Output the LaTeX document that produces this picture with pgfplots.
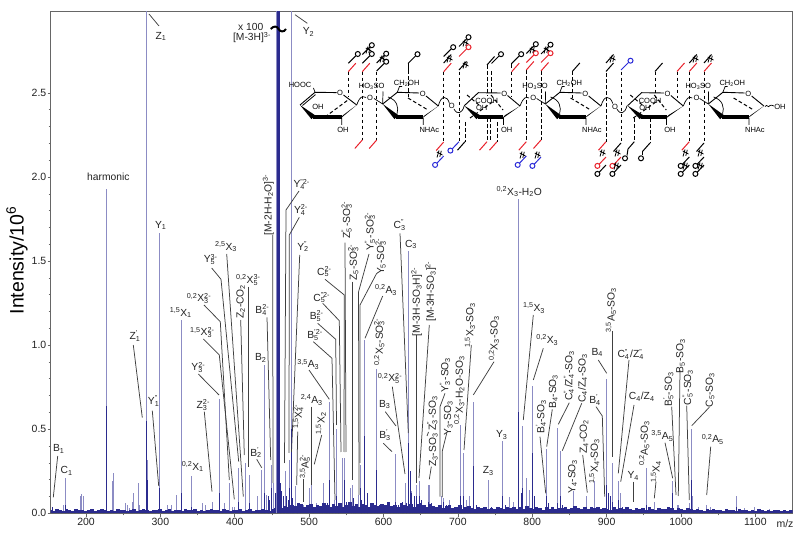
\documentclass[border=0pt]{standalone}
\usepackage{fontspec}
\setmainfont{Liberation Sans}
\usepackage{pgfplots}
\pgfplotsset{compat=1.18}
\usepackage{pgfplotstable}
\definecolor{lightpk}{HTML}{8C8CC4}
\definecolor{darkpk}{HTML}{2B2B8E}
\definecolor{axgray}{HTML}{666666}
\definecolor{txt}{HTML}{222222}
\definecolor{sred}{HTML}{E8212B}
\definecolor{sblue}{HTML}{2A2AD8}
\newcommand{\us}[1]{\textsubscript{#1}}
\newcommand{\os}[1]{\textsuperscript{#1}}
\newcommand{\su}[2]{\rlap{\textsubscript{#1}}\textsuperscript{#2}}
\newcommand{\Lh}[3]{\node[lb] at (#1,#2) {#3};}
\newcommand{\Lv}[3]{\node[lb,rotate=90] at (#1,#2) {#3};}
\newcommand{\Sm}[3]{\node[sm] at (#1,#2) {#3};}
\newcommand{\DV}[3]{\draw[black,line width=1pt,dash pattern=on 3.6pt off 2.4pt] (#1,#2)--(#1,#3);}
\newcommand{\TS}[3]{\draw[#3,line width=1pt] (#1,#2)--++(7.5,-8.5);}
\newcommand{\TC}[3]{\draw[#3,line width=1pt] (#1,#2)--++(7.4,-7.4);\draw[#3,line width=1pt] (#1,#2)++(9.5,-9.3) circle[radius=2.5];}
\newcommand{\BS}[3]{\draw[#3,line width=1pt] (#1,#2)--++(-7.5,8.5);}
\newcommand{\BC}[3]{\draw[#3,line width=1pt] (#1,#2)--++(-6.6,7);\draw[#3,line width=1pt] (#1,#2)++(-8.6,8.9) circle[radius=2.5];}
\newcommand{\XM}[2]{\draw[black,line width=.8pt] (#1-1,#2+3.5)--(#1+1,#2-3.5) (#1+1.8,#2+2.8)--(#1+3.3,#2-3.2) (#1-1.2,#2-2)--(#1+4.5,#2+1);}
\newcommand{\uro}[1]{\begin{scope}[xshift=#1pt]
 \draw[black,line width=.9pt] (464.3,105.7)--(478.3,92.7)--(500.5,93) (507.5,95.5)--(520,106);
 \fill[black] (464.3,105.7)--(476.5,119.2)--(480,115.2)--cycle;
 \fill[black] (478,115.2)--(503.3,115.2)--(503.3,119.2)--(478,119.2)--cycle;
 \fill[black] (501.5,119.2)--(505,115.2)--(520,106)--cycle;
 \Sm{504.3}{94}{O}\Sm{486.7}{101}{COOH}\Sm{481.7}{108}{OH}\Sm{506.7}{130}{OH}
 \draw[black,line width=.7pt] (503.3,118)--(503.3,125);
 \draw[black,line width=.7pt] (520,106) .. controls (524,96) and (526,97) .. (529,98);
 \Sm{533.3}{98.3}{O}\Sm{535}{86.7}{HO\us{3}SO}
 \draw[black,line width=1pt,dash pattern=on 3.6pt off 2.4pt] (467,95)--(479,105) (491,95)--(503,110) (470,118)--(494,101);
 \end{scope}}
\newcommand{\glcn}[1]{\begin{scope}[xshift=#1pt]
 \draw[black,line width=.9pt] (382.7,104)--(397.3,92.3)--(419,93) (426,96)--(438.3,106);
 \fill[black] (382.7,104)--(394.5,119.2)--(398.4,115.2)--cycle;
 \fill[black] (396,115.2)--(423.3,115.2)--(423.3,119.2)--(396,119.2)--cycle;
 \fill[black] (421,119.2)--(425,115.2)--(438.3,106)--cycle;
 \Sm{422.7}{94}{O}\Sm{406.7}{83.3}{CH\us{2}OH}\Sm{429.3}{130}{NHAc}
 \draw[black,line width=.7pt] (397.3,92.3)--(399.5,86.5)--(402,86.5) (423.3,118)--(423.3,125);
 \draw[black,line width=.7pt] (388,97) .. controls (397,100) and (399,107) .. (397,114);
 \draw[black,line width=.7pt] (374,98.5)--(382.7,104) (383,91.5)--(382.7,104);
 \draw[black,line width=1pt,dash pattern=on 3.6pt off 2.4pt] (408,98)--(428,110);
 \end{scope}}
\begin{document}
\begin{tikzpicture}[lb/.style={inner sep=0pt,text=txt,font=\fontsize{10.3}{12}\selectfont},
 sm/.style={inner sep=0pt,text=black,font=\fontsize{7.5}{8}\selectfont}]
\path[use as bounding box] (0,0) rectangle (800pt,538pt);
\begin{axis}[at={(50.7pt,24.7pt)},anchor=south west,scale only axis,width=742pt,height=501.8pt,
 xmin=152.5,xmax=1150.2,ymin=0,ymax=2.985,
 axis line style={axgray,line width=.9pt},
 tick style={axgray,line width=.7pt},
 tick align=outside,xtick pos=bottom,ytick pos=left,
 major tick length=3.2pt,minor tick length=2pt,
 xtick={200,300,400,500,600,700,800,900,1000,1100},
 minor xtick={250,350,450,550,650,750,850,950,1050},
 ytick={0,0.5,1,1.5,2,2.5},minor y tick num=4,
 yticklabel style={inner sep=1pt,/pgf/number format/fixed,/pgf/number format/precision=1,/pgf/number format/fixed zerofill,/pgf/number format/assume math mode=true},
 xticklabel style={inner sep=1.5pt,/pgf/number format/assume math mode=true,/pgf/number format/1000 sep={}},
 tick label style={font=\fontsize{10.5}{12}\selectfont,text=txt},
 scaled ticks=false,clip=true]
% light (thin, upper) part of each peak
\addplot[ycomb,lightpk,line width=1pt,forget plot] coordinates {
(155,.04)(170,.05)(173,.21)(187,.025)(192,.10)(194,.115)(197,.10)(228,1.93)(235,.19)(237,.24)(243,.025)
(253,.06)(256,.05)(258,.03)(262,.065)(264,.12)(270,.18)(272,.05)(281,2.985)(283,.32)(299,1.67)(310,.05)(315,.05)
(322,.11)(328,1.15)(342,.22)(357,.06)(360,.05)(370,.07)(379,.68)(386,.06)(393,.18)(397,.04)(400,.04)(405,.27)
(415,.30)(420,.23)(430,.10)(436,.26)(440,.88)(442,.11)(449,.29)(452,.18)(468,.25)(474,.32)(476.5,2.985)(481.5,.16)
(492,.05)(500,.15)(503,.20)(510,.06)(519,.18)(528,.66)(534.7,.08)(537,.50)(545,.33)(548,.33)(556,.15)(558,.17)
(566,.11)(568.5,.29)(574,1.03)(590,.86)(603,.05)(615.7,.35)(623,.06)(629,.18)(633.5,1.56)(638,.13)(645,.17)(648,.19)
(660,.17)(661,.17)(662,.17)(678,.10)(681,.09)(689,.08)(703.5,.525)(708,.36)(711,.08)(715,.10)(721,.665)(741,.20)(759.7,.43)
(769,.095)(775,.07)(782,1.87)(786.5,.52)(792.5,.21)(796,.14)(800.5,.76)(818.5,.38)(834.5,.51)(837.5,.37)(855,.13)
(873,.10)(884,.19)(900,.80)(908,.30)(915.5,.19)(918,.12)(936,.02)(947,.03)(954,.27)(964,.07)(989,.19)(995,.05)
(997,.05)(1012,.06)(1014,.50)(1016,.10)(1023,.04)(1034.5,.05)(1039,.04)(1074,.10)(1085,.03)(1099,.04)(1119,.025)
};
% dark (broad, lower) part of each peak
\addplot[ycomb,darkpk,line width=1pt,forget plot] coordinates {
(155,.04)(173,.05)(228,.64)(281,.55)(283,.20)(299,.15)(328,.12)(342,.04)(379,.12)(405,.07)(420,.06)(440,.12)(449,.15)
(474,.15)(476.5,.5)(528,.2)(537,.1)(548,.2)(568.5,.15)(574,.46)(590,.26)(615.7,.07)(633.5,.42)(636,.25)(638,.12)(645,.1)
(648,.1)(661,.07)(681,.07)(703.5,.1)(708,.1)(721,.28)(759.7,.1)(782,.6)(786.5,.15)(800.5,.36)(818.5,.1)(819.5,.09)
(834.5,.06)(837.5,.1)(900,.17)(902,.12)(908,.07)(915.5,.08)(954,.05)(989,.12)(1014,.2)(1074,.04)
(445,.1)(447,.08)(455,.12)(461,.18)(463,.13)(465,.1)(470,.1)(472,.08)(478,.09)(484,.06)(525,.06)(540,.06)(550,.07)
(560,.09)(571,.08)(578,.12)(582,.06)(594,.05)(620,.05)(626,.07)(631,.06)(642,.1)(651,.08)(664,.06)(685,.05)(705,.05)
(725,.05)(745,.04)(764,.05)(785,.12)(803,.1)(822,.06)(840,.05)(905,.1)(922,.04)
};
% baseline noise, thousandths
\addplot[ycomb,darkpk,line width=3.5pt,forget plot] table[x expr={152+4.33*\coordindex},y expr={\thisrowno{0}/550},header=false] {
12
9
14
10
8
13
11
9
15
10
12
8
10
14
9
11
13
10
8
12
9
14
11
10
8
12
15
9
10
13
11
8
12
10
14
9
11
13
8
10
12
9
15
11
10
13
8
12
9
11
14
10
12
8
13
11
9
12
10
15
9
11
13
8
12
10
14
11
9
13
16
22
18
25
20
28
24
34
30
22
26
32
20
27
24
35
28
22
30
25
33
21
27
36
24
29
22
31
26
20
34
28
23
30
26
36
24
28
21
33
27
24
31
22
29
35
26
22
30
25
20
27
18
24
28
16
22
26
15
20
24
18
14
20
16
22
13
18
15
21
17
14
22
16
19
13
20
15
24
17
14
21
16
12
19
15
22
14
18
16
20
13
17
25
18
15
22
14
19
16
21
13
18
15
12
20
14
17
13
19
15
12
18
14
16
11
19
14
12
17
13
15
22
16
12
18
14
11
16
13
10
15
12
9
14
11
13
10
12
9
14
10
11
8
13
10
12
9
11
8
13
10
9
12
8
11
10
9
12
8
10
11
9
};
% precursor ion
\addplot[ycomb,lightpk,line width=3.8pt,forget plot] coordinates {(458.5,2.985)};
\addplot[ycomb,darkpk,line width=2.5pt,forget plot] coordinates {(458.5,2.985)};
\end{axis}
\begin{scope}[x=1pt,y=-1pt,shift={(0pt,538pt)}]
\node[rotate=90,inner sep=0pt,text=black,font=\fontsize{19.5}{22}\selectfont] at (17,260.5) {Intensity/10\textsuperscript{6}};
\node[inner sep=0pt,text=txt,font=\fontsize{10.5}{12}\selectfont] at (785,523.3) {m/z};
% leaders
\begin{scope}[black!75!white,line width=.75pt]
\draw (149,14)--(159,26);
\draw (295,14.7)--(307.3,23.3);
\draw (226.7,254)--(243.3,496.7);
\draw (211.7,268)--(221,279.3)--(238.7,461.7);
\draw (204,305)--(220.3,321.7)--(229.3,480);
\draw (203.3,339)--(219.3,355)--(234.3,499.3);
\draw (198.3,374)--(219,395);
\draw (204.3,411.7)--(212,491.7);
\draw (240.7,320)--(244.3,455);
\draw (248.7,286.7)--(248.7,466.7);
\draw (267,317.3)--(270.7,460);
\draw (256.7,459.3)--(261.7,467.7);
\draw (133.3,345)--(142.3,417.7);
\draw (152.3,410.7)--(158.7,486);
\draw (57.7,456)--(53.3,497.3);
\draw (272.7,235)--(273,483);
\draw (299,191)--(286,210)--(284.5,463);
\draw (299.3,217.3)--(289.3,235)--(289,453);
\draw (299.7,255)--(291.5,452);
\draw (345,242.7)--(346,452);
\draw (352.3,281.7)--(352.3,480);
\draw (369,254)--(358.5,292)--(359,495);
\draw (376.7,273.3)--(360,305)--(360,463);
\draw (325,279.3)--(344.3,295)--(344,452);
\draw (322.7,303.3)--(339.3,320.7)--(341,452);
\draw (317.7,323.3)--(335.7,339.3)--(336.5,425);
\draw (313.3,341.7)--(332,358.3)--(335,500);
\draw (382.7,296)--(365,338.3);
\draw (309,370)--(329.3,399.3);
\draw (311,406.7)--(311,485);
\draw (297.7,431.7)--(296.7,485);
\draw (321.7,435)--(314.3,464.3);
\draw (303.3,479.3)--(303.3,501.7);
\draw (392.3,386.7)--(405,474);
\draw (385.3,411.7)--(396,426);
\draw (383.3,443.3)--(392,451.7);
\draw (400,233.3)--(408.3,433);
\draw (416,335)--(416,483);
\draw (429.3,325)--(419,478);
\draw (431.3,466.7)--(429.3,479.3);
\draw (428.5,432)--(427,436);
\draw (445,393.3)--(440,406.7)--(440,496.7);
\draw (446.7,433.3)--(442.3,451)--(442.3,497);
\draw (471.3,345)--(464,450);
\draw (494,361.7)--(473.3,395);
\draw (533.3,315)--(523.3,420);
\draw (543.3,348.3)--(533.3,380);
\draw (540,436.7)--(545.7,493.3);
\draw (552.3,409.3)--(546.7,446.7);
\draw (569.3,402.7)--(558.3,424.3);
\draw (581.7,403.3)--(562.3,450.7);
\draw (596,406.7)--(602.3,416)--(604.7,496.7);
\draw (598.3,360)--(606.7,373.3);
\draw (612.7,331)--(612.7,456.7);
\draw (629,360)--(618.3,473.3);
\draw (634,405)--(620.7,481.7);
\draw (582.7,455)--(587.3,492.7);
\draw (633.3,481.7)--(633.3,501.7);
\draw (656,481.7)--(654.3,498.3);
\draw (665,442.7)--(672.7,478.3);
\draw (671.7,406.7)--(676,495);
\draw (680,370)--(678.3,496);
\draw (686.7,405.7)--(689.3,500);
\draw (709.3,407.3)--(691.7,425.7);
\draw (710.7,446.7)--(706.7,495);
\end{scope}
% break glyph
\draw[black,line width=2pt] (270.7,29) .. controls (274,25.5) and (277,26) .. (278.5,29) .. controls (280,32) and (284,32.5) .. (286,29);
% labels
\Lh{161}{36.5}{Z\us{1}}
\Lh{250.7}{26.5}{x 100}
\Lh{252}{37.5}{[M-3H]\os{3-}}
\Lh{308.5}{32}{Y\us{2}}
\Lh{108.3}{176.7}{harmonic}
\Lh{160.7}{225.3}{Y\us{1}}
\Lh{226}{246.7}{\os{2,5}X\us{3}}
\Lh{210.7}{259.3}{Y\su{5}{3-}}
\Lh{199}{298.3}{\os{0,2}X\su{3}{2-}}
\Lh{202.3}{332.3}{\os{1,5}X\su{3}{2-}}
\Lh{198.3}{367.3}{Y\su{3}{2-}}
\Lh{203.3}{405}{Z\su{3}{2-}}
\Lh{248.3}{280}{\os{0,2}X\su{5}{3-}}
\Lv{240.7}{301.7}{Z\us{2}-CO\us{2}}
\Lh{262.3}{310}{B\su{4}{2-}}
\Lh{260.7}{357.7}{B\us{2}}
\Lh{256}{452.7}{B\su{2}{'}\phantom{'}}
\Lh{180.7}{312.7}{\os{1,5}X\us{1}}
\Lh{192.7}{466.7}{\os{0,2}X\us{1}}
\Lh{135}{336}{Z\su{1}{'}\phantom{'}}
\Lh{154}{401}{Y\su{1}{''}\phantom{'}}
\Lh{58.7}{449}{B\us{1}}
\Lh{66.7}{471}{C\us{1}}
\Lv{268.3}{205}{[M-2H-H\us{2}O]\os{3-}}
\Lh{301.7}{184.3}{Y\su{4}{''2-}}
\Lh{301}{210}{Y\su{4}{2-}}
\Lh{303.3}{246.7}{Y\su{2}{''}\phantom{'}}
\Lv{346.7}{220}{Z\su{5}{''}\phantom{'}-SO\su{3}{2-}}
\Lv{353.3}{262.3}{Z\us{5}-SO\su{3}{2-}}
\Lv{370}{231.7}{Y\su{5}{''}\phantom{'}-SO\su{3}{2-}}
\Lv{380.7}{256.7}{Y\us{5}-SO\su{3}{2-}}
\Lh{324.3}{271.7}{C\su{5}{2-}}
\Lh{321.7}{297.7}{C\su{5}{''2-}}
\Lh{316.7}{316}{B\su{5}{2-}}
\Lh{315}{335}{B\su{5}{'2-}}
\Lh{386}{290}{\os{0,2}A\us{3}}
\Lh{308.3}{364.3}{\os{3,5}A\us{3}}
\Lh{311.7}{400}{\os{2,4}A\us{3}}
\Lv{298.3}{416.7}{\os{1,5}X\su{4}{2-}}
\Lv{321}{423.3}{\os{1,5}X\us{2}}
\Lv{305}{466.7}{\os{3,5}A\su{5}{2-}}
\Lv{379.3}{341.7}{\os{0,2}X\us{5}-SO\su{3}{2-}}
\Lh{390}{378.3}{\os{0,2}X\su{5}{2-}}
\Lh{384.7}{404.3}{B\us{3}}
\Lh{385}{435}{B\su{3}{'}\phantom{'}}
\Lh{400}{225}{C\su{3}{''}\phantom{'}}
\Lh{411}{244.3}{C\us{3}}
\Lv{416.7}{302}{[M-3H-SO\us{3}H]\os{2-}}
\Lv{430.7}{291.5}{[M-3H-SO\us{3}]\os{2-}}
\Lv{432.3}{413.3}{Z\su{3}{''}\phantom{'}-SO\us{3}}
\Lv{433.3}{450}{Z\us{3}-SO\us{3}}
\Lv{445}{375}{Y\su{3}{''}\phantom{'}-SO\us{3}}
\Lv{448.3}{418.3}{Y\us{3}-SO\us{3}}
\Lv{459.3}{390}{\os{0,2}X\us{3}-H\us{2}O-SO\us{3}}
\Lv{470}{325}{\os{1,5}X\us{3}-SO\us{3}}
\Lv{494}{338.3}{\os{0,2}X\us{3}-SO\us{3}}
\Lh{501.7}{435}{Y\us{3}}
\Lh{488.3}{471}{Z\us{3}}
\Lh{534}{308}{\os{1,5}X\us{3}}
\Lh{547.3}{340}{\os{0,2}X\us{3}}
\Lh{519.3}{191.7}{\os{0,2}X\us{3}-H\us{2}O}
\Lv{541}{416.7}{B\su{4}{'}\phantom{'}-SO\us{3}}
\Lv{553.3}{391.7}{B\us{4}-SO\us{3}}
\Lv{569}{375.7}{C\su{4}{''}\phantom{'}/Z\su{4}{''}\phantom{'}-SO\us{3}}
\Lv{582.7}{378.3}{C\us{4}/Z\us{4}-SO\us{3}}
\Lh{595}{400}{B\su{4}{'}\phantom{'}}
\Lh{597.3}{352.3}{B\us{4}}
\Lv{611}{310}{\os{3,5}A\us{5}-SO\us{3}}
\Lh{631}{354.3}{C\su{4}{''}\phantom{'}/Z\su{4}{''}\phantom{'}}
\Lh{641.7}{396.7}{C\us{4}/Z\us{4}}
\Lv{584}{436.7}{Z\us{4}-CO\us{2}}
\Lv{594.3}{461}{\os{1,5}X\us{4}-SO\us{3}}
\Lv{572.7}{476.7}{Y\us{4}-SO\us{3}}
\Lh{633.3}{475.7}{Y\us{4}}
\Lv{644.3}{443.3}{\os{0,2}A\us{5}-SO\us{3}}
\Lv{656}{471.7}{\os{1,5}X\us{4}}
\Lh{662.3}{436}{\os{3,5}A\us{5}}
\Lv{668.3}{389.3}{B\su{5}{'}\phantom{'}-SO\us{3}}
\Lv{680.7}{356}{B\us{5}-SO\us{3}}
\Lv{687.7}{387.3}{C\su{5}{''}\phantom{'}-SO\us{3}}
\Lv{710}{390}{C\us{5}-SO\us{3}}
\Lh{712.7}{439.3}{\os{0,2}A\us{5}}
% ===== structure: rings =====
\draw[black,line width=.9pt] (300,105)--(315,92.3)--(336.5,92.6) (343.5,95)--(356.7,105);
\draw[black,line width=.8pt] (302.5,105.5)--(315.5,94.6);
\fill[black] (300,105)--(311.5,119.2)--(315,115.2)--cycle;
\fill[black] (313,115.2)--(341.7,115.2)--(341.7,119.2)--(313,119.2)--cycle;
\fill[black] (339.7,119.2)--(343,115.2)--(356.7,105)--cycle;
\draw[black,line width=.7pt] (315,92.3)--(313.5,88) (341.7,118)--(341.7,125);
\Sm{300}{85}{HOOC}\Sm{340}{93}{O}\Sm{318}{107}{OH}\Sm{343}{130}{OH}
\draw[black,line width=.7pt] (356.7,105) .. controls (360,96) and (362,96) .. (366,97.5);
\Sm{370}{97.7}{O}\Sm{371.7}{86.7}{HO\us{3}SO}
\draw[black,line width=1pt,dash pattern=on 3.6pt off 2.4pt] (325,117)--(348,100);
\glcn{0}\glcn{162.6}\glcn{325.6}
\uro{0}\uro{163.3}
% glycosidic waves
\draw[black,line width=.7pt] (438.3,106) .. controls (441,95) and (447,95) .. (449.5,103.5) (454,109) .. controls (457,115) and (462,114) .. (464.3,105.7);
\Sm{451.7}{106}{O}
\draw[black,line width=.7pt] (601,106) .. controls (604,95) and (610,95) .. (612.8,103.5) (617,109) .. controls (620,115) and (625,114) .. (627,105.7);
\Sm{615}{106.5}{O}
\draw[black,line width=.7pt] (765,106.7) .. controls (767,103) and (768,109) .. (770,105.5) .. controls (771,104) and (772,106) .. (774,106);
\Sm{780}{107.3}{OH}
% ===== cleavage marks, column by column =====
\DV{348.3}{71.7}{96}\TS{348.3}{71.7}{sred}\TC{348.3}{63.3}{black}
\DV{362.3}{71.7}{140}\BS{362.3}{140}{sred}\TS{362.3}{71.7}{sred}\TC{362.3}{63.3}{black}\TC{362.3}{54.5}{black}\XM{367}{50}
\DV{376.7}{71.7}{140}\BS{376.7}{140}{sred}\TC{376.7}{71}{black}\TC{376.7}{63}{black}\XM{381}{59}
\DV{408}{70}{96.7}\TC{408}{63.5}{black}\draw[black,line width=1pt] (408,70)--(408,63.5);
\DV{443.7}{71.7}{141.7}\BS{443.7}{142}{sred}\BC{443.7}{156}{sblue}\XM{438}{154}\TS{443.7}{71.7}{sred}\TS{443.7}{63}{black}\XM{448}{59}\TC{443.7}{56.5}{black}
\DV{459}{71.7}{141.7}\BC{459}{141.7}{sblue}\TS{459}{70}{black}\XM{464}{65}\TC{459}{56.5}{sred}\TC{459}{46.5}{black}\XM{464}{43}
\DV{465}{122}{141.7}\BS{465}{141.7}{black}
\DV{487}{65}{96}\DV{487}{118}{141.7}\DV{490}{118}{141.7}\DV{491.5}{71}{96}\TS{487}{65}{black}\TC{491.5}{63.5}{black}\BS{487}{141.7}{sred}
\DV{497}{122}{141.7}\BS{497}{141.7}{sred}
\DV{511.7}{71.7}{96}\TS{511.7}{71.7}{sred}\TC{511.7}{63.5}{black}\draw[black,line width=1pt] (511.7,68)--(511.7,63.5);
\DV{526.3}{70}{141.7}\BS{526.3}{141.7}{sred}\BC{526.3}{156}{sblue}\XM{521}{155}\TS{526.3}{70}{sred}\TC{526.3}{62.5}{sred}\TC{526.3}{53.5}{black}\XM{531}{50}
\DV{541}{71}{140}\BS{541}{140}{sred}\BC{541}{157}{sblue}\XM{536}{155}\TS{541}{71}{sred}\TC{541}{62.5}{sred}\TC{541}{54}{black}\XM{545}{50}
\DV{572.3}{71}{98}\TS{572.3}{71.5}{black}
\DV{606}{73}{141.7}\BS{606}{141.7}{sred}\XM{601}{153}\BC{606}{157}{sred}\BC{606}{165}{black}\TS{606}{71.5}{black}\TS{606}{63}{black}\XM{611}{59}
\DV{621}{71.7}{141.7}\BS{621}{143}{black}\XM{616}{153}\BC{621}{157}{sred}\BC{621}{165}{black}\XM{615}{166}\TC{621}{70}{sblue}
\DV{634.3}{118}{141.7}\draw[black,line width=1pt] (634.3,141.7)--(628,149) (628,149)--(627,155.5);\draw[black,line width=1pt] (625,158.3) circle[radius=2.5];
\DV{650}{118}{143}\BS{650}{143}{black}\draw[black,line width=1pt] (642.5,151.5)--(642.5,155.5);\draw[black,line width=1pt] (641,158.3) circle[radius=2.5];
\DV{655}{71.7}{98}\TS{655}{71.5}{black}
\DV{677}{71.7}{98}\TS{677}{71.5}{sred}
\DV{689.3}{71.7}{141.7}\BS{689.3}{141.7}{sred}\XM{684}{153}\BC{689.3}{157}{black}\BC{689.3}{165}{black}\XM{684}{166}\TS{689.3}{71.5}{sred}\TS{689.3}{63}{black}\XM{694}{59}
\DV{704}{71.7}{141.7}\BS{704}{143}{black}\XM{699}{153}\BC{704}{157}{black}\BC{704}{165}{black}\XM{699}{166}\TS{704}{71.5}{sred}\TS{704}{63}{black}\XM{709}{59}
\end{scope}
\end{tikzpicture}
\end{document}
